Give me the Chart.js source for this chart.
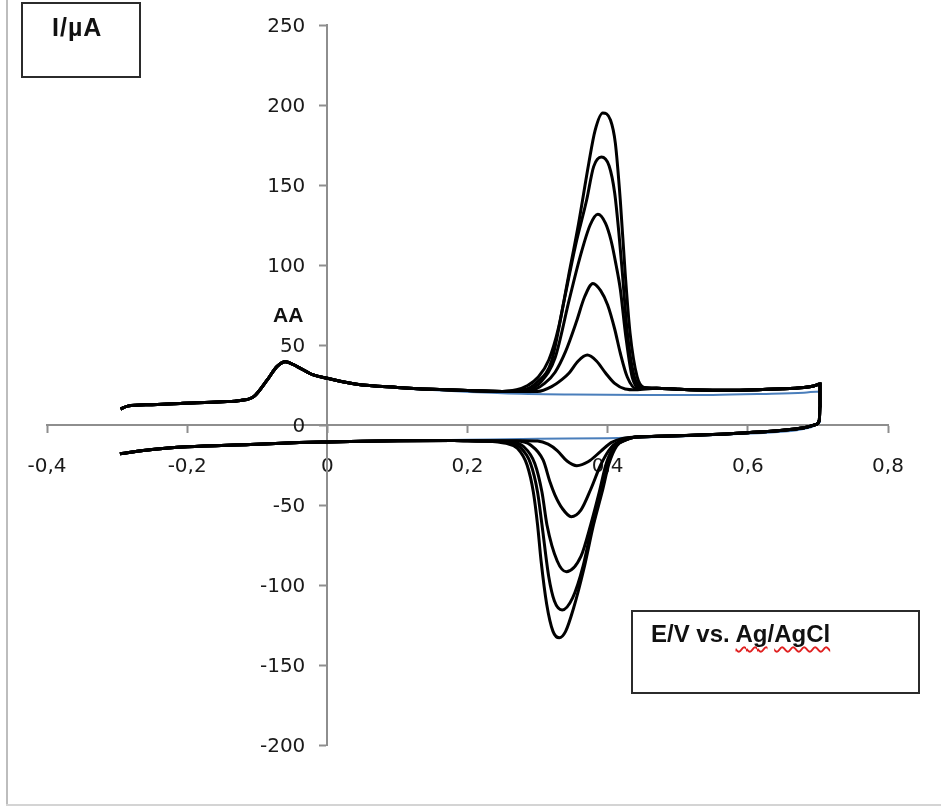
<!DOCTYPE html>
<html>
<head>
<meta charset="utf-8">
<title>CV AA</title>
<script src="https://cdn.jsdelivr.net/npm/chart.js@4.4.1/dist/chart.umd.min.js"></script>
<style>
  html, body { margin: 0; padding: 0; background: #fff; }
  #wrap { position: relative; width: 941px; height: 807px; overflow: hidden; }
  #cv { position: absolute; left: 0; top: 0; }
  .frame-left { position: absolute; left: 6px; top: 0; width: 2px; height: 806px; background: #bdbdbd; }
  .frame-bottom { position: absolute; left: 6px; top: 804px; width: 935px; height: 2px; background: #d4d4d4; }
  .box { position: absolute; border: 2px solid #2b2b2b; box-sizing: border-box; }
  .lbl { position: absolute; font-family: 'Liberation Sans', Arial, sans-serif; font-weight: bold; color: #111; white-space: nowrap; }
  .sp { text-decoration: underline wavy #e02020; text-decoration-thickness: 1.5px; text-underline-offset: 4px; text-decoration-skip-ink: none; }
</style>
</head>
<body>
<div id="wrap">
  <canvas id="cv" width="941" height="807"></canvas>
  <div class="frame-left"></div>
  <div class="frame-bottom"></div>
  <div class="box" style="left:21px; top:2px; width:120px; height:76px;"></div>
  <div class="lbl" style="left:52px; top:15px; font-size:25px; line-height:25px; letter-spacing:1px;">I/µA</div>
  <div class="box" style="left:631px; top:610px; width:289px; height:84px;"></div>
  <div class="lbl" style="left:651px; top:622px; font-size:24px; line-height:24px;">E/V vs. <span class="sp">Ag</span>/<span class="sp">AgCl</span></div>
  <div class="lbl" style="left:273px; top:304px; font-size:21px; line-height:21px;">AA</div>
</div>
<script>
// ========== Axis ticks ==========
const xTicks = [-0.4, -0.2, 0, 0.2, 0.4, 0.6, 0.8];
const yTicks = [-200, -150, -100, -50, 0, 50, 100, 150, 200, 250];

// ========== Common parts of the scans (E in V, I in µA) ==========
// forward scan from -0.3 V up to the AA oxidation region
const fwdE = [-0.295, -0.285, -0.25, -0.21, -0.15, -0.124, -0.105, -0.086, -0.072, -0.06, -0.043, -0.02, 0, 0.042, 0.1, 0.15, 0.2, 0.25];
const fwdI = [10, 11.8, 12.7, 13.5, 14.5, 15.3, 17.7, 28, 36.5, 39.6, 36.5, 31.3, 29.2, 25.5, 23.5, 22.3, 21.5, 21];
// after the anodic peak up to the switching potential
const tailE = [0.47, 0.5, 0.55, 0.6, 0.65, 0.68, 0.694, 0.703];
const tailI = [23, 22.3, 21.7, 21.9, 22.6, 23.5, 24.4, 25.6];
// switching and start of the reverse scan
const turnE = [0.703, 0.702, 0.697, 0.685, 0.66, 0.6, 0.53, 0.47];
const turnI = [12, 3, 0.3, -1.2, -2.8, -4.8, -6.3, -7.1];
// reverse scan after the cathodic peak, back to -0.3 V
const backE = [0.22, 0.18, 0.1, 0.05, 0, -0.04, -0.11, -0.2, -0.25, -0.296];
const backI = [-10, -9.7, -9.9, -10.2, -10.6, -11, -12.2, -13.6, -15.3, -18];

// ========== Oxidation peaks (largest to smallest) ==========
const oxE = [
  [0.27, 0.285, 0.301, 0.316, 0.330, 0.344, 0.3585, 0.373, 0.382, 0.393, 0.404, 0.411, 0.418, 0.425, 0.432, 0.442, 0.452],
  [0.28, 0.3, 0.32, 0.338, 0.354, 0.37, 0.38, 0.391, 0.402, 0.41, 0.416, 0.421, 0.428, 0.437, 0.45],
  [0.285, 0.305, 0.325, 0.345, 0.36, 0.375, 0.386, 0.397, 0.405, 0.412, 0.418, 0.426, 0.435, 0.448],
  [0.29, 0.31, 0.325, 0.34, 0.355, 0.367, 0.379, 0.39, 0.4, 0.41, 0.418, 0.428, 0.44],
  [0.3, 0.32, 0.335, 0.345, 0.358, 0.371, 0.384, 0.397, 0.41, 0.425, 0.44]
];
const oxI = [
  [22, 24.5, 30, 40.6, 61, 92.7, 126, 163.5, 184, 195, 190.6, 176, 140.6, 94.8, 57.3, 30.2, 23.5],
  [22, 27, 40, 78, 112, 140.6, 161.5, 167.5, 162, 145, 120, 95, 58, 32, 23.5],
  [22, 27, 42, 78, 104, 125, 131.7, 126, 115, 100, 85, 55, 30, 23],
  [21.5, 26, 33, 46, 64, 80, 88.5, 84, 75, 60, 45, 30, 23],
  [21, 24, 28.5, 32.5, 40, 43.7, 40, 32.5, 26, 22.5, 22]
];

// ========== Reduction peaks (same order, E decreasing) ==========
const redE = [
  [0.44, 0.425, 0.413, 0.402, 0.392, 0.38, 0.366, 0.351, 0.34, 0.331, 0.322, 0.313, 0.305, 0.3, 0.294, 0.285, 0.271, 0.255],
  [0.44, 0.425, 0.412, 0.4, 0.39, 0.378, 0.365, 0.35, 0.335, 0.324, 0.316, 0.3063, 0.3, 0.29, 0.275, 0.258],
  [0.44, 0.425, 0.41, 0.398, 0.388, 0.376, 0.362, 0.341, 0.328, 0.3134, 0.3063, 0.296, 0.28, 0.262],
  [0.44, 0.42, 0.405, 0.39, 0.376, 0.362, 0.348, 0.335, 0.325, 0.318, 0.308, 0.29, 0.27],
  [0.44, 0.42, 0.405, 0.39, 0.372, 0.356, 0.342, 0.328, 0.315, 0.3, 0.28]
];
const redI = [
  [-7.5, -9.5, -13, -24, -42, -62, -90, -115, -129, -133, -129, -112, -85, -62.5, -42, -25, -14.5, -11.5],
  [-7.5, -9.5, -13, -24, -42, -62, -88, -108, -115.6, -110, -95, -62.5, -42, -24, -14, -11],
  [-7.5, -9.5, -13, -24, -42, -62, -82, -91.7, -85, -62.5, -42, -24, -13.5, -10.5],
  [-7.5, -9.5, -14, -25, -40, -53, -57.3, -52, -44, -36, -22, -12.5, -10],
  [-7.5, -8.5, -11, -16.5, -23, -25.4, -22.5, -16, -12, -10, -9.8]
];

// ========== Blank (blue) ==========
const blankE = [0.12, 0.25, 0.35, 0.45, 0.55, 0.62, 0.68, 0.703, 0.703, 0.69, 0.6, 0.5, 0.4, 0.3, 0.2, 0.1];
const blankI = [22.5, 19.8, 19, 18.7, 18.8, 19.4, 20.2, 21, 2, -1.5, -5.3, -7.2, -8.3, -8.6, -9.2, -9.8];

// ========== Helpers ==========
function toPoints(E, I) {
  return E.map((e, i) => ({ x: e, y: I[i] }));
}

function cycle(k) {
  const E = [].concat(fwdE, oxE[k], tailE, turnE, redE[k], backE);
  const I = [].concat(fwdI, oxI[k], tailI, turnI, redI[k], backI);
  return toPoints(E, I);
}

function fmtX(v) {
  if (Math.abs(v) < 1e-9) return '0';
  return v.toFixed(1).replace('.', ',');
}

const axisColor = '#8e8e8e';
const tickFont = { family: "'DejaVu Sans', sans-serif", size: 20 };

// labels of an axis placed at x=0 sit right on the line; push them left like Excel does
const yLabelGap = 22;
const shiftYLabels = {
  id: 'shiftYLabels',
  beforeDraw(chart) {
    chart.scales.y.getLabelItems(chart.chartArea).forEach(item => {
      if (item._moved) return;
      item.options.translation[0] -= yLabelGap;
      item.options.translation[1] += 2;
      item._moved = true;
    });
  }
};

const datasets = oxE.map((_, k) => ({
  data: cycle(k),
  showLine: true,
  borderColor: '#000',
  borderWidth: 3,
  pointRadius: 0,
  cubicInterpolationMode: 'monotone'
}));
// blank drawn last in the list so it sits under the black curves
datasets.push({
  data: toPoints(blankE, blankI),
  showLine: true,
  borderColor: '#4a7ebb',
  borderWidth: 2,
  pointRadius: 0,
  cubicInterpolationMode: 'monotone'
});

// ========== Chart ==========
new Chart(document.getElementById('cv').getContext('2d'), {
  type: 'scatter',
  data: { datasets },
  plugins: [shiftYLabels],
  options: {
    responsive: false,
    animation: false,
    layout: { padding: { left: 47, right: 53, top: 25, bottom: 62 } },
    plugins: { legend: { display: false }, tooltip: { enabled: false } },
    scales: {
      x: {
        type: 'linear',
        position: { y: 0 },
        min: -0.4,
        max: 0.8,
        afterBuildTicks: s => { s.ticks = xTicks.map(v => ({ value: v })); },
        ticks: { callback: fmtX, font: tickFont, color: '#1a1a1a', padding: 23, maxRotation: 0, autoSkip: false },
        grid: { drawOnChartArea: false, drawTicks: true, tickLength: 7, tickColor: axisColor, tickWidth: 2 },
        border: { display: true, color: axisColor, width: 2 }
      },
      y: {
        type: 'linear',
        position: { x: 0 },
        min: -200,
        max: 250,
        afterBuildTicks: s => { s.ticks = yTicks.map(v => ({ value: v })); },
        ticks: { callback: v => String(v), font: tickFont, color: '#1a1a1a', autoSkip: false },
        grid: { drawOnChartArea: false, drawTicks: true, tickLength: 7, tickColor: axisColor, tickWidth: 2 },
        border: { display: true, color: axisColor, width: 2 }
      }
    }
  }
});
</script>
</body>
</html>
